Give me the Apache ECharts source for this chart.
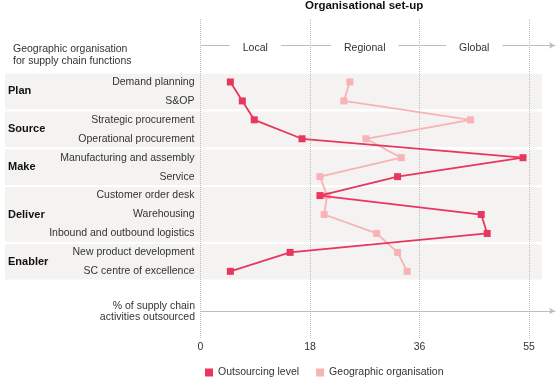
<!DOCTYPE html>
<html>
<head>
<meta charset="utf-8">
<script src="https://cdn.jsdelivr.net/npm/echarts@6/dist/echarts.min.js"></script>
<style>
  html, body { margin: 0; padding: 0; background: #fff; }
  #setup { width: 556px; height: 377px; }
</style>
</head>
<body>
<div id="setup"></div>
<script>
var setup = echarts.init(document.getElementById('setup'));

// supply chain functions, top to bottom
var functions = ['Demand planning', 'S&OP', 'Strategic procurement', 'Operational procurement',
    'Manufacturing and assembly', 'Service', 'Customer order desk', 'Warehousing',
    'Inbound and outbound logistics', 'New product development', 'SC centre of excellence'];
var groups = ['Plan', 'Source', 'Make', 'Deliver', 'Enabler'];
var groupSizes = [2, 2, 2, 3, 2];

var outsourcing = [5, 7, 9, 17, 54, 33, 20, 47, 48, 15, 5];
var geographic = [25, 24, 45.2, 27.7, 33.6, 20, 21.2, 20.7, 29.5, 33, 34.6];

var setupLabels = ['Local', 'Regional', 'Global'];
var tickLabels = ['0', '18', '36', '55'];

var dark = '#e8365f';
var light = '#f7b3b5';
var font = '"Liberation Sans", Arial, sans-serif';

// group spans [0, start, end, name]
var bands = [];
var pos = 0;
for (var i = 0; i < groups.length; i++) {
    bands.push([0, pos, pos + groupSizes[i], groups[i]]);
    pos += groupSizes[i];
}

var gridTop = 72.5;
var gridH = 208.3;

option = {
    animation: false,
    textStyle: { fontFamily: font },
    title: [{
        text: 'Organisational set-up',
        left: 305,
        top: 0,
        padding: 0,
        textStyle: { fontSize: 11.5, fontWeight: 'bold', color: '#111', fontFamily: font }
    }, {
        text: 'Geographic organisation\nfor supply chain functions',
        left: 8,
        top: 38,
        textStyle: { fontSize: 10.5, fontWeight: 'normal', color: '#333', lineHeight: 12, fontFamily: font }
    }, {
        text: '% of supply chain\nactivities outsourced',
        left: 190,
        top: 295,
        textAlign: 'right',
        textStyle: { fontSize: 10.5, fontWeight: 'normal', color: '#333', lineHeight: 11.5, fontFamily: font, align: 'right' }
    }],
    legend: {
        data: ['Outsourcing level', 'Geographic organisation'],
        left: 200,
        top: 362,
        icon: 'rect',
        itemWidth: 8,
        itemHeight: 8,
        itemGap: 17,
        textStyle: { fontSize: 10.5, color: '#333', fontFamily: font }
    },
    grid: [
        // data
        { left: 200.5, right: 27, top: gridTop, height: gridH },
        // dotted frame + tick labels
        { left: 200.5, right: 27, top: 19, bottom: 39 },
        // arrow lines
        { left: 200.5, right: 1, top: 45.5, bottom: 66 },
        // background bands
        { left: 5, right: 14, top: gridTop, height: gridH }
    ],
    xAxis: [{
        gridIndex: 0, type: 'value', min: 0, max: 55, show: false
    }, {
        gridIndex: 0, type: 'category', position: 'top', offset: gridTop - 45.5,
        data: setupLabels, z: 5,
        axisLine: { show: false }, axisTick: { show: false },
        axisLabel: {
            color: '#333', fontSize: 10.5, fontFamily: font, margin: -3,
            verticalAlign: 'middle', backgroundColor: '#fff', padding: [3, 13]
        }
    }, {
        gridIndex: 1, type: 'value', min: 0, max: 55, interval: 55 / 3,
        axisLine: { show: false }, axisTick: { show: false },
        axisLabel: {
            color: '#333', fontSize: 10.5, fontFamily: font, margin: 4,
            formatter: function (v, idx) { return tickLabels[idx]; }
        },
        splitLine: { show: true, lineStyle: { color: '#bdbdbd', type: 'dotted', width: 1 } }
    }, {
        gridIndex: 2, type: 'value', position: 'top', min: 0, max: 1, z: 1,
        axisLine: { show: true, onZero: false, symbol: ['none', 'arrow'], symbolSize: [5, 6], lineStyle: { color: '#bdbdbd', width: 1 } },
        axisTick: { show: false }, axisLabel: { show: false }, splitLine: { show: false }
    }, {
        gridIndex: 2, type: 'value', position: 'bottom', min: 0, max: 1, z: 1,
        axisLine: { show: true, onZero: false, symbol: ['none', 'arrow'], symbolSize: [5, 6], lineStyle: { color: '#bdbdbd', width: 1 } },
        axisTick: { show: false }, axisLabel: { show: false }, splitLine: { show: false }
    }, {
        gridIndex: 3, type: 'value', min: 0, max: 1, show: false
    }],
    yAxis: [{
        gridIndex: 0, type: 'category', inverse: true, data: functions,
        axisLine: { show: false }, axisTick: { show: false },
        axisLabel: { color: '#333', fontSize: 10.5, fontFamily: font, margin: 6 }
    }, {
        gridIndex: 1, type: 'value', show: false
    }, {
        gridIndex: 2, type: 'value', show: false
    }, {
        gridIndex: 3, type: 'value', min: 0, max: functions.length, inverse: true, show: false
    }],
    series: [{
        type: 'custom',
        xAxisIndex: 5,
        yAxisIndex: 3,
        z: -1,
        silent: true,
        data: bands,
        renderItem: function (params, api) {
            var p0 = api.coord([0, api.value(1)]);
            var p1 = api.coord([1, api.value(2)]);
            return {
                type: 'group',
                children: [{
                    type: 'rect',
                    shape: { x: p0[0], y: p0[1] + 1.2, width: p1[0] - p0[0], height: p1[1] - p0[1] - 2.4 },
                    style: { fill: '#f4f3f1' }
                }, {
                    type: 'text',
                    style: {
                        text: bands[params.dataIndex][3],
                        x: p0[0] + 3, y: (p0[1] + p1[1]) / 2,
                        fill: '#111', font: 'bold 11px ' + font,
                        verticalAlign: 'middle', align: 'left'
                    }
                }]
            };
        }
    }, {
        name: 'Geographic organisation',
        type: 'line',
        xAxisIndex: 0,
        yAxisIndex: 0,
        z: 3,
        data: geographic.map(function (v, i) { return [v, functions[i]]; }),
        symbol: 'rect',
        symbolSize: 7,
        itemStyle: { color: light },
        lineStyle: { color: light, width: 1.8 }
    }, {
        name: 'Outsourcing level',
        type: 'line',
        xAxisIndex: 0,
        yAxisIndex: 0,
        z: 4,
        data: outsourcing.map(function (v, i) { return [v, functions[i]]; }),
        symbol: 'rect',
        symbolSize: 7,
        itemStyle: { color: dark },
        lineStyle: { color: dark, width: 1.8 }
    }]
};

setup.setOption(option);
</script>
</body>
</html>
